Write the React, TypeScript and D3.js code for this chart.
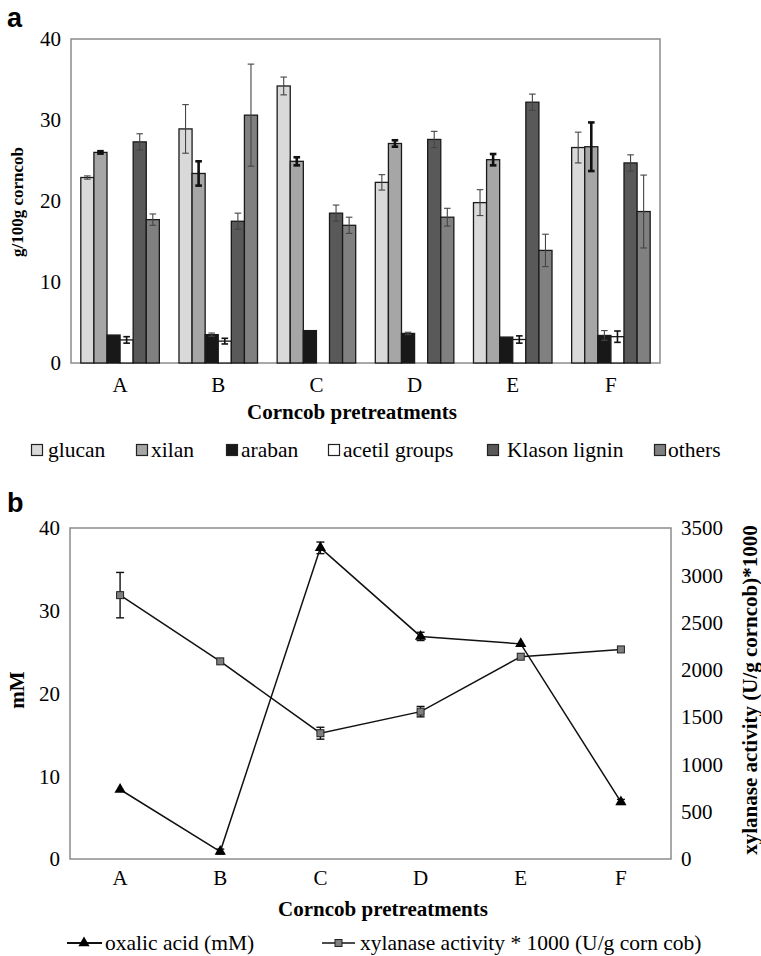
import { useEffect, useRef } from "react";
import * as d3 from "d3";

// panel a: composition of corncob (g/100g)
const groups = ["A", "B", "C", "D", "E", "F"];
const components = ["glucan", "xilan", "araban", "acetil groups", "Klason lignin", "others"];
const glucan = [22.9, 28.9, 34.2, 22.3, 19.8, 26.6];
const glucanErr = [0.2, 3.0, 1.1, 0.95, 1.6, 1.9];
const xilan = [26.0, 23.4, 24.9, 27.1, 25.1, 26.7];
const xilanErr = [0.15, 1.5, 0.5, 0.4, 0.7, 3.0];
const araban = [3.45, 3.5, 4.0, 3.65, 3.2, 3.4];
const arabanErr = [0, 0.2, 0, 0.15, 0, 0.6];
const acetil = [2.85, 2.7, 0, 0, 2.9, 3.25];
const acetilErr = [0.4, 0.35, 0, 0, 0.45, 0.7];
const klason = [27.3, 17.5, 18.5, 27.6, 32.2, 24.7];
const klasonErr = [1.0, 1.0, 1.0, 1.0, 1.0, 1.0];
const others = [17.7, 30.6, 17.0, 18.0, 13.9, 18.7];
const othersErr = [0.7, 6.3, 1.0, 1.1, 2.0, 4.5];
const compTicks = [0, 10, 20, 30, 40];

// panel b: oxalic acid and xylanase activity
const oxalic = [8.4, 0.9, 37.6, 26.9, 26.0, 6.9];
const oxalicErr = [0, 0.3, 0.7, 0.5, 0, 0.3];
const xylanase = [2790, 2090, 1330, 1558, 2139, 2216];
const xylanaseErr = [240, 0, 63, 55, 0, 0];
const mmTicks = [0, 10, 20, 30, 40];
const xylTicks = [0, 500, 1000, 1500, 2000, 2500, 3000, 3500];

const fills = ["#d9d9d9", "#a6a6a6", "#181818", "#ffffff", "#595959", "#808080"];
const serif = "'Liberation Serif', 'Times New Roman', serif";

export default function App() {
  const ref = useRef(null);

  useEffect(() => {
    const svg = d3
      .select(ref.current)
      .append("svg")
      .attr("width", 761)
      .attr("height", 956)
      .style("position", "absolute")
      .style("left", "0px")
      .style("top", "0px")
      .style("background", "#fff");

    // ---------- panel a ----------
    const series = [
      { name: components[0], v: glucan, e: glucanErr, ew: 1.1, ec: "#444" },
      { name: components[1], v: xilan, e: xilanErr, ew: 2.6, ec: "#111" },
      { name: components[2], v: araban, e: arabanErr, ew: 1.1, ec: "#444" },
      { name: components[3], v: acetil, e: acetilErr, ew: 1.6, ec: "#111" },
      { name: components[4], v: klason, e: klasonErr, ew: 1.1, ec: "#444" },
      { name: components[5], v: others, e: othersErr, ew: 1.1, ec: "#444" },
    ];

    const ax = { left: 71, right: 660, top: 39, bottom: 363 };
    const x0 = d3.scaleBand().domain(groups).range([ax.left, ax.right]).padding(0);
    const bw = x0.bandwidth();
    const x1 = d3
      .scaleBand()
      .domain(components)
      .range([bw * 0.1, bw * 0.9])
      .padding(0);
    const y = d3.scaleLinear().domain([0, 40]).range([ax.bottom, ax.top]);

    const ga = svg.append("g");
    ga.append("rect")
      .attr("x", ax.left)
      .attr("y", ax.top)
      .attr("width", ax.right - ax.left)
      .attr("height", ax.bottom - ax.top)
      .attr("fill", "none")
      .attr("stroke", "#8c8c8c")
      .attr("stroke-width", 1.5);

    series.forEach((s, si) => {
      const g = ga.append("g");
      g.selectAll("rect")
        .data(groups.map((k, i) => ({ k, v: s.v[i], e: s.e[i] })).filter((d) => d.v > 0))
        .enter()
        .append("rect")
        .attr("x", (d) => x0(d.k) + x1(s.name))
        .attr("y", (d) => y(d.v))
        .attr("width", x1.bandwidth())
        .attr("height", (d) => y(0) - y(d.v))
        .attr("fill", fills[si])
        .attr("stroke", "#1a1a1a")
        .attr("stroke-width", 1.3);

      const errs = groups
        .map((k, i) => ({ k, v: s.v[i], e: s.e[i] }))
        .filter((d) => d.e > 0);
      const cx = (d) => x0(d.k) + x1(s.name) + x1.bandwidth() / 2;
      const cap = 3.3;
      const eg = g.append("g").attr("stroke", s.ec).attr("stroke-width", s.ew);
      errs.forEach((d) => {
        eg.append("line").attr("x1", cx(d)).attr("x2", cx(d)).attr("y1", y(d.v - d.e)).attr("y2", y(d.v + d.e));
        eg.append("line").attr("x1", cx(d) - cap).attr("x2", cx(d) + cap).attr("y1", y(d.v + d.e)).attr("y2", y(d.v + d.e));
        eg.append("line").attr("x1", cx(d) - cap).attr("x2", cx(d) + cap).attr("y1", y(d.v - d.e)).attr("y2", y(d.v - d.e));
      });
    });

    ga.append("g")
      .selectAll("text")
      .data(compTicks)
      .enter()
      .append("text")
      .attr("x", 61)
      .attr("y", (d) => y(d))
      .attr("dy", "0.35em")
      .attr("text-anchor", "end")
      .attr("font-family", serif)
      .attr("font-size", 21)
      .text((d) => d);

    ga.append("g")
      .selectAll("text")
      .data(groups)
      .enter()
      .append("text")
      .attr("x", (d) => x0(d) + bw / 2)
      .attr("y", 392)
      .attr("text-anchor", "middle")
      .attr("font-family", serif)
      .attr("font-size", 21)
      .text((d) => d);

    ga.append("text")
      .attr("x", 352)
      .attr("y", 419)
      .attr("text-anchor", "middle")
      .attr("font-family", serif)
      .attr("font-weight", "bold")
      .attr("font-size", 21)
      .text("Corncob pretreatments");

    ga.append("text")
      .attr("transform", "translate(23,202) rotate(-90)")
      .attr("text-anchor", "middle")
      .attr("font-family", serif)
      .attr("font-weight", "bold")
      .attr("font-size", 17)
      .text("g/100g corncob");

    ga.append("text")
      .attr("x", 7)
      .attr("y", 27)
      .attr("font-family", "'Liberation Sans', Arial, sans-serif")
      .attr("font-weight", "bold")
      .attr("font-size", 27)
      .text("a");

    const legSq = [31, 136, 226, 328, 487, 654];
    const legTx = [48, 151, 241, 343, 507, 668];
    const lg = ga.append("g");
    components.forEach((c, i) => {
      lg.append("rect")
        .attr("x", legSq[i] + 0.5)
        .attr("y", 444.5)
        .attr("width", 11)
        .attr("height", 11)
        .attr("fill", fills[i])
        .attr("stroke", "#222")
        .attr("stroke-width", 1.2);
      lg.append("text")
        .attr("x", legTx[i])
        .attr("y", 457)
        .attr("font-family", serif)
        .attr("font-size", 21.5)
        .text(c);
    });

    // ---------- panel b ----------
    const bx = { left: 70, right: 671, top: 528, bottom: 859 };
    const xb = d3.scaleBand().domain(groups).range([bx.left, bx.right]).padding(0);
    const yl = d3.scaleLinear().domain([0, 40]).range([bx.bottom, bx.top]);
    const yr = d3.scaleLinear().domain([0, 3500]).range([bx.bottom, bx.top]);
    const cxb = (k) => xb(k) + xb.bandwidth() / 2;

    const gb = svg.append("g");
    gb.append("rect")
      .attr("x", bx.left)
      .attr("y", bx.top)
      .attr("width", bx.right - bx.left)
      .attr("height", bx.bottom - bx.top)
      .attr("fill", "none")
      .attr("stroke", "#8c8c8c")
      .attr("stroke-width", 1.5);

    const line = d3.line().x((d) => d[0]).y((d) => d[1]);
    const oxPts = groups.map((k, i) => [cxb(k), yl(oxalic[i])]);
    const xyPts = groups.map((k, i) => [cxb(k), yr(xylanase[i])]);

    gb.append("path").attr("d", line(xyPts)).attr("fill", "none").attr("stroke", "#111").attr("stroke-width", 1.5);
    gb.append("path").attr("d", line(oxPts)).attr("fill", "none").attr("stroke", "#111").attr("stroke-width", 1.5);

    const errB = (vals, errs, sc) => {
      const eg = gb.append("g").attr("stroke", "#111").attr("stroke-width", 1.4);
      groups.forEach((k, i) => {
        if (!errs[i]) return;
        const cx = cxb(k);
        const y1 = sc(vals[i] - errs[i]);
        const y2 = sc(vals[i] + errs[i]);
        eg.append("line").attr("x1", cx).attr("x2", cx).attr("y1", y1).attr("y2", y2);
        eg.append("line").attr("x1", cx - 4).attr("x2", cx + 4).attr("y1", y1).attr("y2", y1);
        eg.append("line").attr("x1", cx - 4).attr("x2", cx + 4).attr("y1", y2).attr("y2", y2);
      });
    };
    errB(xylanase, xylanaseErr, yr);
    errB(oxalic, oxalicErr, yl);

    const tri = d3.symbol().type(d3.symbolTriangle).size(55);
    gb.append("g")
      .selectAll("path")
      .data(oxPts)
      .enter()
      .append("path")
      .attr("transform", (d) => `translate(${d[0]},${d[1]})`)
      .attr("d", tri())
      .attr("fill", "#000");

    gb.append("g")
      .selectAll("rect")
      .data(xyPts)
      .enter()
      .append("rect")
      .attr("x", (d) => d[0] - 3.5)
      .attr("y", (d) => d[1] - 3.5)
      .attr("width", 7)
      .attr("height", 7)
      .attr("fill", "#7f7f7f")
      .attr("stroke", "#222")
      .attr("stroke-width", 1);

    gb.append("g")
      .selectAll("text")
      .data(mmTicks)
      .enter()
      .append("text")
      .attr("x", 60)
      .attr("y", (d) => yl(d))
      .attr("dy", "0.35em")
      .attr("text-anchor", "end")
      .attr("font-family", serif)
      .attr("font-size", 21)
      .text((d) => d);

    gb.append("g")
      .selectAll("text")
      .data(xylTicks)
      .enter()
      .append("text")
      .attr("x", 681)
      .attr("y", (d) => yr(d))
      .attr("dy", "0.35em")
      .attr("font-family", serif)
      .attr("font-size", 21)
      .text((d) => d);

    gb.append("g")
      .selectAll("text")
      .data(groups)
      .enter()
      .append("text")
      .attr("x", (d) => cxb(d))
      .attr("y", 885)
      .attr("text-anchor", "middle")
      .attr("font-family", serif)
      .attr("font-size", 21)
      .text((d) => d);

    gb.append("text")
      .attr("x", 383)
      .attr("y", 916)
      .attr("text-anchor", "middle")
      .attr("font-family", serif)
      .attr("font-weight", "bold")
      .attr("font-size", 21)
      .text("Corncob pretreatments");

    gb.append("text")
      .attr("transform", "translate(24,690) rotate(-90)")
      .attr("text-anchor", "middle")
      .attr("font-family", serif)
      .attr("font-weight", "bold")
      .attr("font-size", 21)
      .text("mM");

    gb.append("text")
      .attr("transform", "translate(757,690) rotate(-90)")
      .attr("text-anchor", "middle")
      .attr("font-family", serif)
      .attr("font-weight", "bold")
      .attr("font-size", 21)
      .text("xylanase activity (U/g corncob)*1000");

    gb.append("text")
      .attr("x", 7)
      .attr("y", 512)
      .attr("font-family", "'Liberation Sans', Arial, sans-serif")
      .attr("font-weight", "bold")
      .attr("font-size", 27)
      .text("b");

    // legend b
    const lb = gb.append("g");
    lb.append("line").attr("x1", 67).attr("x2", 102).attr("y1", 943).attr("y2", 943).attr("stroke", "#111").attr("stroke-width", 2);
    lb.append("path").attr("transform", "translate(84,943)").attr("d", tri()).attr("fill", "#000");
    lb.append("text").attr("x", 105).attr("y", 950).attr("font-family", serif).attr("font-size", 21.5).text("oxalic acid (mM)");
    lb.append("line").attr("x1", 322).attr("x2", 355).attr("y1", 943).attr("y2", 943).attr("stroke", "#111").attr("stroke-width", 1.5);
    lb.append("rect").attr("x", 335).attr("y", 939.5).attr("width", 7).attr("height", 7).attr("fill", "#7f7f7f").attr("stroke", "#222");
    lb.append("text").attr("x", 360).attr("y", 950).attr("font-family", serif).attr("font-size", 21.5).text("xylanase activity * 1000 (U/g corn cob)");

    return () => {
      d3.select(ref.current).selectAll("*").remove();
    };
  }, []);

  return <div ref={ref} />;
}
